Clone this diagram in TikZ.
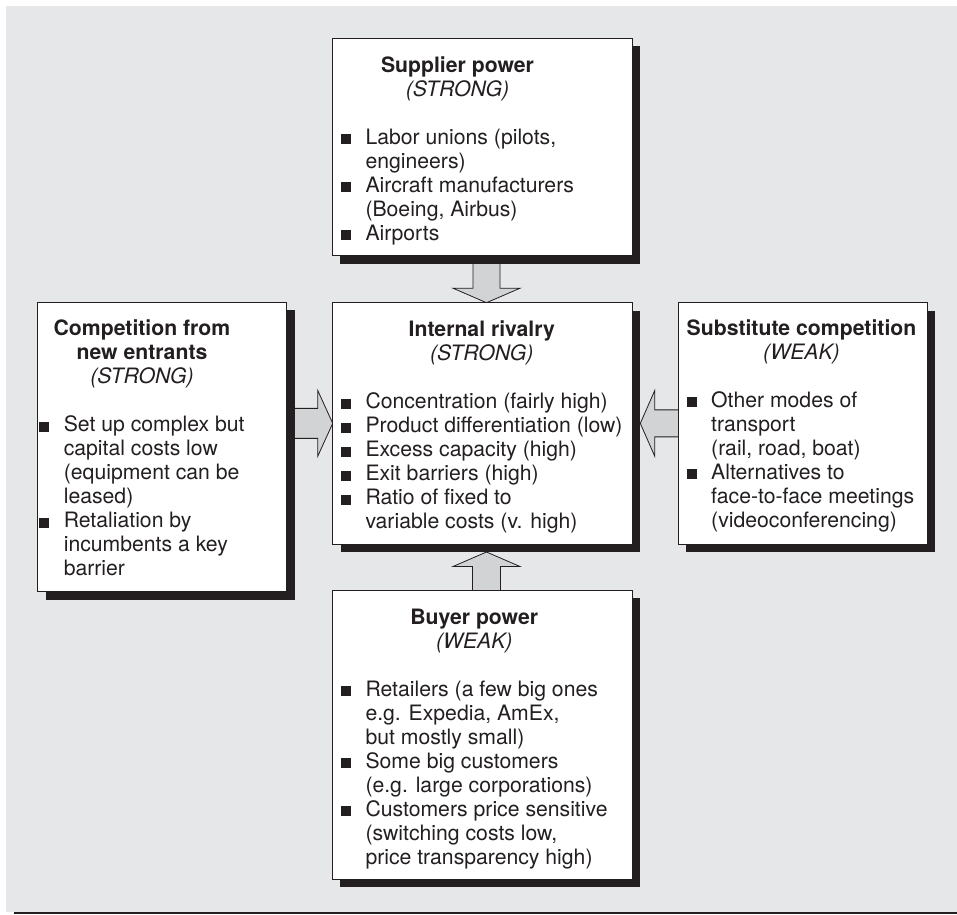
\documentclass[tikz,border=0pt]{standalone}
\usepackage{fontspec}
\setmainfont{TeX Gyre Heros}
\usetikzlibrary{calc}
\definecolor{ink}{HTML}{231F20}
\definecolor{bggray}{HTML}{E6E7E8}
\definecolor{arrgray}{HTML}{D1D3D4}
\pgfdeclarelayer{back}
\pgfdeclarelayer{arr}
\pgfdeclarelayer{shad}
\pgfsetlayers{back,arr,shad,main}
\newcommand\bul{\makebox[24.5pt][l]{\rule{10pt}{10pt}}}
\newcommand\ind{\hspace*{24.5pt}}
\newcommand\ttl[1]{\multicolumn{1}{@{}c@{}}{\bfseries #1}}
\newcommand\sttl[1]{\multicolumn{1}{@{}c@{}}{\itshape #1}}
\begin{document}
\begin{tikzpicture}[x=1pt,y=-1pt,
  box/.style={draw=ink, line width=0.9pt, fill=white, inner sep=0pt, outer sep=0pt, anchor=north west},
  txt/.style={inner sep=0pt, outer sep=0pt, anchor=north west, text=ink, font=\fontsize{21.2}{24}\selectfont},
  blk/.style={fill=arrgray, draw=ink, line width=0.8pt, line join=miter},
  shadowbox/.style={fill=ink}]
\useasboundingbox (0,0) rectangle (957,914);
\begin{pgfonlayer}{back}
  \fill[bggray] (6,6) rectangle (957,911.7);
  \fill[ink] (14,911.7) rectangle (957,914);
\end{pgfonlayer}
% boxes
\node[box, minimum width=300pt, minimum height=217.4pt] (sup) at (332.3,38.3) {};
\node[box, minimum width=299.6pt, minimum height=241.3pt] (cen) at (332.7,302.7) {};
\node[box, minimum width=249pt, minimum height=289.4pt] (ent) at (37.7,302.3) {};
\node[box, minimum width=248.7pt, minimum height=241.3pt] (sub) at (678.3,302.7) {};
\node[box, minimum width=300pt, minimum height=289.3pt] (buy) at (332.3,590) {};
% shadows
\begin{pgfonlayer}{shad}
  \foreach \n in {sup,cen,ent,sub,buy}
    \fill[shadowbox] ($(\n.north west)+(8,8)$) rectangle ($(\n.south east)+(8,8)$);
\end{pgfonlayer}
% arrow anchor points
\coordinate (tD) at ($(cen.north)+(4,0)$);
\coordinate (sD) at (tD |- sup.south);
\coordinate (tU) at ($(cen.south)+(4,8)$);
\coordinate (sU) at (tU |- buy.north);
\coordinate (tR) at (cen.west);
\coordinate (sR) at (ent.east |- tR);
\coordinate (tL) at ($(cen.east)+(8,0)$);
\coordinate (sL) at (sub.west |- tL);
\begin{pgfonlayer}{arr}
  % supplier -> rivalry (down)
  \draw[blk] ($(sD)+(-13.5,0)$) -- ($(tD)+(-13.5,-14.5)$) -- ($(tD)+(-33.5,-14.5)$) -- (tD)
    -- ($(tD)+(33.5,-14.5)$) -- ($(tD)+(13.5,-14.5)$) -- ($(sD)+(13.5,0)$);
  % buyer -> rivalry (up)
  \draw[blk] ($(sU)+(-14,0)$) -- ($(tU)+(-14,14.5)$) -- ($(tU)+(-33.5,14.5)$) -- (tU)
    -- ($(tU)+(33.5,14.5)$) -- ($(tU)+(14,14.5)$) -- ($(sU)+(14,0)$);
  % entrants -> rivalry (right)
  \draw[blk] ($(sR)+(0,-15)$) -- ($(tR)+(-15,-15)$) -- ($(tR)+(-15,-33)$) -- (tR)
    -- ($(tR)+(-15,33)$) -- ($(tR)+(-15,15)$) -- ($(sR)+(0,15)$);
  % substitutes -> rivalry (left)
  \draw[blk] ($(sL)+(0,-13.5)$) -- ($(tL)+(14.5,-13.5)$) -- ($(tL)+(14.5,-33)$) -- (tL)
    -- ($(tL)+(14.5,33)$) -- ($(tL)+(14.5,13.5)$) -- ($(sL)+(0,13.5)$);
\end{pgfonlayer}
% texts
\node[txt] (supT) at (341,55.2) {\begin{tabular}{@{}l@{}}
\ttl{Supplier power}\\
\sttl{(STRONG)}\\
\\
\bul Labor unions (pilots,\\
\ind engineers)\\
\bul Aircraft manufacturers\\
\ind (Boeing, Airbus)\\
\bul Airports
\end{tabular}};
\node[txt] (cenT) at (341,319.9) {\begin{tabular}{@{}l@{}}
\ttl{Internal rivalry}\\
\sttl{(STRONG)}\\
\\
\bul Concentration (fairly high)\\
\bul Product differentiation (low)\\
\bul Excess capacity (high)\\
\bul Exit barriers (high)\\
\bul Ratio of fixed to\\
\ind variable costs (v. high)
\end{tabular}};
\node[txt] (entT) at (39.3,318.7) {\begin{tabular}{@{}l@{}}
\ttl{Competition from}\\
\ttl{new entrants}\\
\sttl{(STRONG)}\\
\\
\bul Set up complex but\\
\ind capital costs low\\
\ind (equipment can be\\
\ind leased)\\
\bul Retaliation by\\
\ind incumbents a key\\
\ind barrier
\end{tabular}};
\node[txt] (subT) at (686.7,318.2) {\begin{tabular}{@{}l@{}}
\ttl{Substitute competition}\\
\sttl{(WEAK)}\\
\\
\bul Other modes of\\
\ind transport\\
\ind (rail, road, boat)\\
\bul Alternatives to\\
\ind face-to-face meetings\\
\ind (videoconferencing)
\end{tabular}};
\node[txt] (buyT) at (341,607.2) {\begin{tabular}{@{}l@{}}
\ttl{Buyer power}\\
\sttl{(WEAK)}\\
\\
\bul Retailers (a few big ones\\
\ind e.g. Expedia, AmEx,\\
\ind but mostly small)\\
\bul Some big customers\\
\ind (e.g. large corporations)\\
\bul Customers price sensitive\\
\ind (switching costs low,\\
\ind price transparency high)
\end{tabular}};
\end{tikzpicture}
\end{document}
